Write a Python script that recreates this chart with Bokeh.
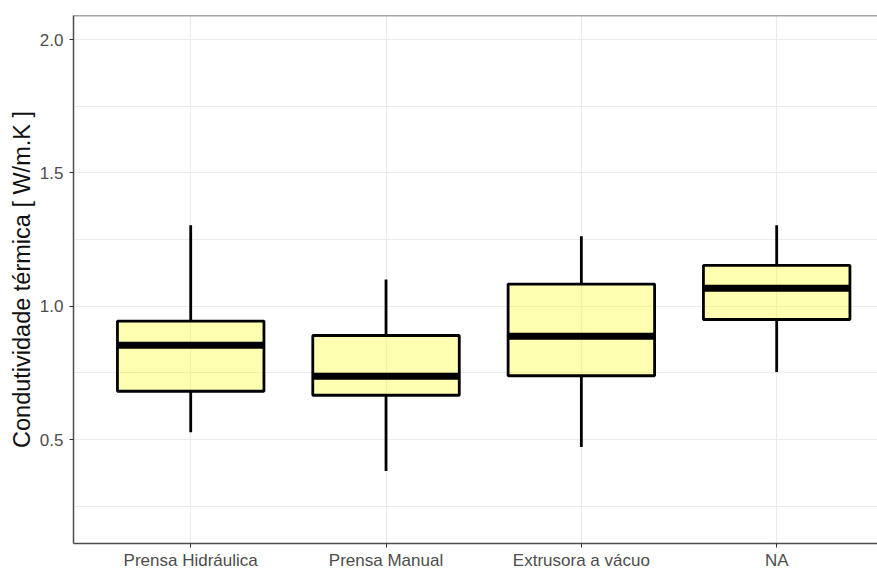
from bokeh.plotting import figure
from bokeh.models import ColumnDataSource, Range1d, FixedTicker, Span, CustomJSTickFormatter
from bokeh.embed import file_html
from bokeh.resources import INLINE

# ---- data ----
categories = ["Prensa Hidráulica", "Prensa Manual", "Extrusora a vácuo", "NA"]
positions = [1, 2, 3, 4]
whisker_low = [0.527, 0.382, 0.472, 0.753]
q1 = [0.681, 0.666, 0.739, 0.950]
median = [0.853, 0.737, 0.887, 1.067]
q3 = [0.944, 0.890, 1.083, 1.153]
whisker_high = [1.303, 1.100, 1.262, 1.303]

y_major_ticks = [0.5, 1.0, 1.5, 2.0]
y_minor_ticks = [0.25, 0.75, 1.25, 1.75]
y_limits = (0.2, 2.0)

half_w = 0.375
src = ColumnDataSource(dict(
    x=positions,
    left=[p - half_w for p in positions],
    right=[p + half_w for p in positions],
    wl=whisker_low, q1=q1, med=median, q3=q3, wh=whisker_high,
))

pad = (y_limits[1] - y_limits[0]) * 0.05
y_range = Range1d(y_limits[0] - pad, y_limits[1] + pad)
unit_px = 195.33
frame_w = 877 - 73
x_range = Range1d(0.4, 0.4 + frame_w / unit_px)

p = figure(width=877, height=572, x_range=x_range, y_range=y_range,
           output_backend="svg", toolbar_location=None,
           min_border_left=73, min_border_top=15, min_border_right=0,
           min_border_bottom=28)
p.outline_line_color = None
p.background_fill_color = "white"
p.border_fill_color = "white"

FONT = "Liberation Sans"
AX = "#4d4d4d"

# axes
p.xaxis.ticker = FixedTicker(ticks=positions)
p.xaxis.major_label_overrides = {pos: c for pos, c in zip(positions, categories)}
p.yaxis.ticker = FixedTicker(ticks=y_major_ticks, minor_ticks=y_minor_ticks)
p.yaxis.formatter = CustomJSTickFormatter(code="return tick.toFixed(1);")

for ax in (p.xaxis[0], p.yaxis[0]):
    ax.axis_line_color = AX
    ax.axis_line_width = 1.5
    ax.major_tick_line_color = "#333333"
    ax.major_tick_line_width = 1
    ax.major_tick_out = 4
    ax.major_tick_in = 0
    ax.minor_tick_line_color = None
    ax.major_label_text_font = FONT
    ax.major_label_text_font_size = "17px"
    ax.major_label_text_color = AX

p.xaxis.major_label_standoff = 3
p.yaxis.major_label_standoff = 6
p.yaxis.axis_label = "Condutividade térmica [ W/m.K ]"
p.yaxis.axis_label_text_font = FONT
p.yaxis.axis_label_text_font_size = "23.5px"
p.yaxis.axis_label_text_font_style = "normal"
p.yaxis.axis_label_text_color = "#111111"
p.yaxis.axis_label_standoff = 2

# grids
p.xgrid.grid_line_color = "#ebebeb"
p.xgrid.grid_line_width = 1.2
p.ygrid.grid_line_color = "#ebebeb"
p.ygrid.grid_line_width = 1.2
p.ygrid.minor_grid_line_color = "#ebebeb"
p.ygrid.minor_grid_line_width = 1.0

# top panel border
p.add_layout(Span(location=y_range.end, dimension="width",
                  line_color=AX, line_width=1.5))

# whiskers
p.segment(x0="x", y0="q3", x1="x", y1="wh", source=src,
          line_color="black", line_width=2.8)
p.segment(x0="x", y0="wl", x1="x", y1="q1", source=src,
          line_color="black", line_width=2.8)
# boxes
p.quad(left="left", right="right", bottom="q1", top="q3", source=src,
       fill_color="yellow", fill_alpha=0.3,
       line_color="black", line_width=2.8)
# medians
p.segment(x0="left", y0="med", x1="right", y1="med", source=src,
          line_color="black", line_width=7, line_cap="butt")

open("out.html", "w").write(file_html(p, INLINE))
